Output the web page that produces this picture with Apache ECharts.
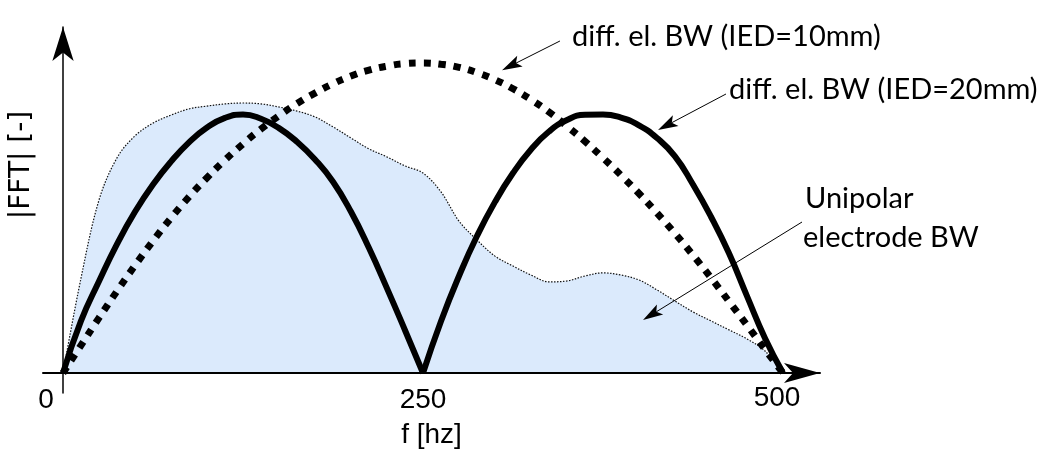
<!DOCTYPE html>
<html>
<head>
<meta charset="utf-8">
<script src="https://cdn.jsdelivr.net/npm/echarts@6/dist/echarts.min.js"></script>
<style>
  html, body { margin: 0; padding: 0; background: #fff; }
  #chart { width: 1052px; height: 453px; }
</style>
</head>
<body>
<div id="chart"></div>
<script>
// Frequency grid (Hz)
const freq = [0, 12.5, 25, 37.5, 50, 62.5, 75, 87.5, 100, 112.5, 125, 137.5, 150, 162.5, 175, 187.5, 200,
  212.5, 225, 237.5, 250, 262.5, 275, 287.5, 300, 312.5, 325, 337.5, 350, 362.5, 375, 387.5, 400,
  412.5, 425, 437.5, 450, 462.5, 475, 487.5, 500];

// Relative |FFT| magnitude (arbitrary units, IED=10mm peak = 100)
const unipolar = [0, 30.6, 55.8, 69.4, 76.5, 80.6, 83.2, 85.2, 86.1, 86.8, 87.1, 86.8, 85.8, 84.5, 82.6, 79.4, 75.8,
  72.3, 69.7, 66.8, 64.5, 58.4, 49.0, 42.9, 37.7, 34.5, 31.6, 29.4, 29.7, 31.3, 32.3, 31.6, 30.0,
  26.8, 23.2, 19.7, 16.8, 13.9, 11.0, 7.1, 0];
const ied10 = [0, 8.9, 17.8, 26.4, 34.7, 42.6, 50.0, 56.8, 63.0, 68.7, 73.9, 78.7, 83.0, 86.9, 90.3, 93.3, 95.8,
  97.7, 99.0, 99.8, 100, 99.6, 98.6, 96.9, 94.6, 91.7, 88.2, 84.2, 79.6, 74.7, 69.4, 63.8, 57.9,
  51.6, 45.0, 38.0, 30.7, 23.1, 15.4, 7.6, 0];
const ied20 = [0, 16.8, 29.6, 41.6, 52.0, 60.8, 68.2, 74.4, 79.2, 82.3, 83.4, 82.0, 79.0, 74.6, 68.9, 61.7, 52.0,
  40.3, 27.3, 13.8, 0, 16.7, 31.3, 44.2, 55.2, 64.5, 72.1, 77.9, 81.6, 83.3, 83.4, 82.4, 79.9,
  75.8, 69.9, 60.8, 50.4, 38.6, 24.8, 11.2, 0];

// Frequency axis labels
const tickValues = [0, 250, 500];

// Callout labels: [text, anchor f, anchor magnitude]
const labelTexts = ['diff. el. BW (IED=10mm)', 'diff. el. BW (IED=20mm)', 'Unipolar', 'electrode BW'];
const labelAnchors = [[353.5, 108.4], [462.5, 91.3], [515.3, 56.2], [513.9, 43.6]];
// Callout arrows: [from f, from magnitude, to f, to magnitude]
const arrowLines = [[345.1, 107.1, 304.9, 97.7], [460.4, 90.0, 413.2, 78.4], [513.2, 48.7, 402.8, 17.1]];

const pairs = (xs, ys, from, to) => xs.slice(from, to + 1).map((x, i) => [x, ys[from + i]]);
const mid = freq.indexOf(250);

const axisFont = 'Liberation Sans, Arial, sans-serif';
const noteFont = 'Lato, sans-serif';

const chart = echarts.init(document.getElementById('chart'));

const option = {
  animation: false,
  backgroundColor: '#fff',
  grid: { left: 43, right: 232, top: 27, bottom: 60, containLabel: false, outerBoundsMode: 'none' },
  xAxis: {
    type: 'value',
    min: -20 / 1.44,
    max: 757 / 1.44,
    z: 5,
    axisLine: {
      onZero: true,
      symbol: ['none', 'arrow'],
      symbolSize: [15, 36],
      lineStyle: { color: '#000', width: 2 }
    },
    axisTick: { show: false },
    splitLine: { show: false },
    axisLabel: {
      customValues: tickValues,
      margin: -7,
      color: '#000',
      fontFamily: axisFont,
      fontSize: 28,
      lineHeight: 28,
      formatter: v => v === 0 ? '{l|0}' : (v === 500 ? '{r|500}' : '{c|' + v + '}'),
      rich: {
        l: { fontFamily: axisFont, fontSize: 28, lineHeight: 28, color: '#000', padding: [0, 34, 0, 0] },
        r: { fontFamily: axisFont, fontSize: 28, lineHeight: 28, color: '#000', padding: [0, 12, 4, 0] },
        c: { fontFamily: axisFont, fontSize: 28, lineHeight: 28, color: '#000' }
      }
    },
    name: 'f [hz]',
    nameLocation: 'middle',
    nameGap: 26,
    nameTextStyle: { color: '#000', fontFamily: axisFont, fontSize: 28, lineHeight: 28 }
  },
  yAxis: {
    type: 'value',
    min: -20 / 3.1,
    max: 346 / 3.1,
    z: 5,
    axisLine: {
      onZero: true,
      symbol: ['none', 'arrow'],
      symbolSize: [16, 34],
      lineStyle: { color: '#000', width: 1.5 }
    },
    axisTick: { show: false },
    axisLabel: { show: false },
    splitLine: { show: false }
  },
  series: [
    {
      name: 'Unipolar electrode BW',
      type: 'line',
      data: pairs(freq, unipolar, 0, freq.length - 1),
      smooth: 0.35,
      showSymbol: false,
      z: 1,
      lineStyle: { color: '#111', width: 1.2, type: [1.5, 1.5] },
      areaStyle: { color: '#dbeafc', opacity: 1 }
    },
    {
      name: 'diff. el. BW (IED=10mm)',
      type: 'line',
      data: pairs(freq, ied10, 0, freq.length - 1),
      smooth: 0.5,
      showSymbol: false,
      z: 2,
      lineStyle: { color: '#000', width: 7, type: [7, 8], cap: 'butt' }
    },
    {
      name: 'diff. el. BW (IED=20mm)',
      type: 'line',
      data: pairs(freq, ied20, 0, mid),
      smooth: 0.5,
      showSymbol: false,
      z: 3,
      lineStyle: { color: '#000', width: 6 }
    },
    {
      name: 'diff. el. BW (IED=20mm) upper lobe',
      type: 'line',
      data: pairs(freq, ied20, mid, freq.length - 1),
      smooth: 0.5,
      showSymbol: false,
      z: 3,
      lineStyle: { color: '#000', width: 6 }
    }
  ]
};

chart.setOption(option);

// Callouts anchored in data space
const toPx = p => chart.convertToPixel({ gridIndex: 0 }, p);
const elements = [];

labelTexts.forEach((t, i) => {
  const p = toPx(labelAnchors[i]);
  elements.push({
    type: 'text', x: p[0], y: p[1], z: 100,
    style: { text: t, fill: '#000', fontFamily: noteFont, fontSize: 29, align: 'left', verticalAlign: 'middle' }
  });
});

arrowLines.forEach(a => {
  const s = toPx([a[0], a[1]]);
  const e = toPx([a[2], a[3]]);
  const dx = e[0] - s[0], dy = e[1] - s[1];
  const len = Math.hypot(dx, dy);
  const ux = dx / len, uy = dy / len;
  const nx = -uy, ny = ux;
  const L = 20, W = 12;
  const bx = e[0] - ux * L, by = e[1] - uy * L;
  const notch = [e[0] - ux * L * 0.78, e[1] - uy * L * 0.78];
  elements.push({
    type: 'line', z: 100,
    shape: { x1: s[0], y1: s[1], x2: notch[0], y2: notch[1] },
    style: { stroke: '#000', lineWidth: 1 }
  });
  elements.push({
    type: 'polygon', z: 100,
    shape: { points: [e, [bx + nx * W / 2, by + ny * W / 2], notch, [bx - nx * W / 2, by - ny * W / 2]] },
    style: { fill: '#000' }
  });
});

// Vertical axis title
const yTitle = toPx([-28.5, 67.1]);
elements.push({
  type: 'text', x: yTitle[0], y: yTitle[1], rotation: Math.PI / 2, z: 100,
  style: { text: '|FFT| [-]', fill: '#000', fontFamily: 'DejaVu Sans, sans-serif', fontSize: 28, align: 'center', verticalAlign: 'middle' }
});

chart.setOption({ graphic: { elements } });
</script>
</body>
</html>
